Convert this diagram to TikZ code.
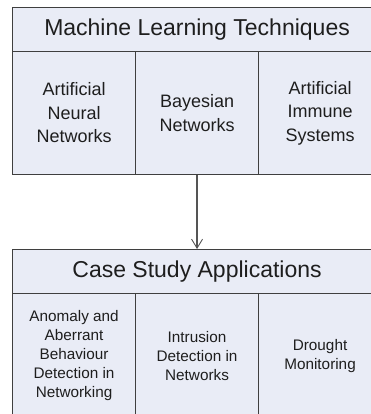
\documentclass[tikz,border=0pt]{standalone}
\usepackage{fontspec}
\setmainfont{Liberation Sans}
\usetikzlibrary{arrows.meta}
\definecolor{cellfill}{HTML}{E9ECF6}
\definecolor{edge}{HTML}{3F3F3F}
\definecolor{ink}{HTML}{1E1E1E}
\definecolor{linkgray}{HTML}{555555}
\begin{document}
\begin{tikzpicture}[x=1pt,y=-1pt,
  cell/.style={draw=edge, fill=cellfill, line width=1.1pt, inner sep=0pt,
    anchor=north west, align=center, text=ink},
  headcell/.style={cell, minimum width=369pt, minimum height=44pt,
    font=\fontsize{23}{28}\selectfont},
  topcol/.style={cell, minimum width=123pt, minimum height=123pt,
    font=\fontsize{18}{23.5}\selectfont},
  lowcol/.style={cell, minimum width=123pt, minimum height=124pt,
    font=\fontsize{15.3}{19}\selectfont},
  link/.style={draw=linkgray, line width=1.2pt,
    -{Straight Barb[length=9pt,width=11pt,line width=0.9pt]}}]
\useasboundingbox (0,0) rectangle (371,414);
\clip (0,0) rectangle (371,414);

% upper block: techniques
\node[headcell] (mlt) at (12,7) {Machine Learning Techniques};
\node[topcol] (ann) at (12,51)  {Artificial\\Neural\\Networks};
\node[topcol] (bn)  at (135,51) {Bayesian\\Networks};
\node[topcol] (ais) at (258,51) {Artificial\\Immune\\Systems};

% lower block: applications
\node[headcell] (csa) at (12,249) {Case Study Applications};
\node[lowcol] (aab) at (12,293)  {Anomaly and\\Aberrant\\Behaviour\\Detection in\\Networking};
\node[lowcol] (idn) at (135,293) {Intrusion\\Detection in\\Networks};
\node[lowcol] (drm) at (258,293) {Drought\\Monitoring};

% connector between the two blocks
\draw[link] (bn.south) -- (csa.north);
\end{tikzpicture}
\end{document}
